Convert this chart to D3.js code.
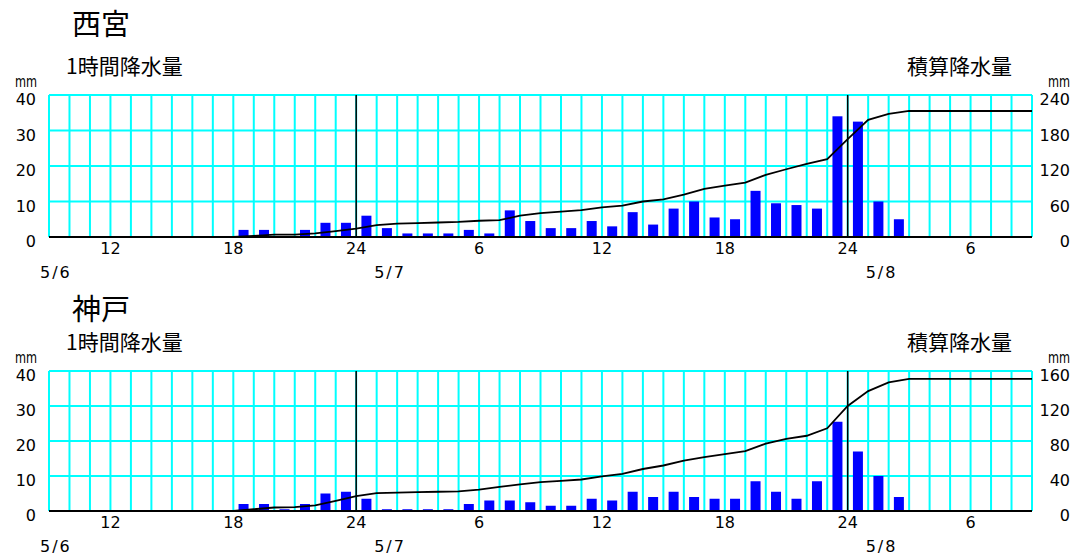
<!DOCTYPE html>
<html><head><meta charset="utf-8">
<script src="https://cdn.jsdelivr.net/npm/d3@7"></script>
<style>
html,body{margin:0;padding:0;background:#fff;}
svg{display:block;}
text{font-family:"DejaVu Sans",sans-serif;fill:#000;}
.jp{font-family:"Noto Sans CJK JP","Noto Sans CJK SC",sans-serif;}
</style></head><body>
<svg id="c" width="1090" height="556"></svg>
<script>
// hour offsets from 5/6 9:00 ; slot i = hour i..i+1
const stations = ["西宮", "神戸"];
const hourTickValues = [3, 9, 15, 21, 27, 33, 39, 45];
const hourTickLabels = ["12", "18", "24", "6", "12", "18", "24", "6"];
const dayLabels = ["5/6", "5/7", "5/8"];
const dayHours = [-9, 15, 39];
const midnightHours = [15, 39];
const rainTicks = [0, 10, 20, 30, 40];
const cumTicksNishinomiya = [0, 60, 120, 180, 240];
const cumTicksKobe = [0, 40, 80, 120, 160];

const hourlyNishinomiya = [
  0,0,0,0,0,0,0,0,0, 2,2,0,2,4,4,
  6,2.5,1,1,1,2,1,7.5,4.5,2.5,2.5,4.5,3,7,3.5,8,10,5.5,5,13,9.5,9,8,34,
  32.5,10,5,0,0,0,0,0,0
];
const cumNishinomiya = [
  0,0,0,0,0,0,0,0,0,0, 2,4,4,6,10,14,
  20,22.5,23.5,24.5,25.5,27.5,28.5,36,40.5,43,45.5,50,53,60,63.5,71.5,81.5,87,92,105,114.5,123.5,131.5,165.5,
  198,208,213,213,213,213,213,213,213
];
const hourlyKobe = [
  0,0,0,0,0,0,0,0,0, 2,2,0.5,2,5,5.5,
  3.5,0.5,0.5,0.5,0.5,2,3,3,2.5,1.5,1.5,3.5,3,5.5,4,5.5,4,3.5,3.5,8.5,5.5,3.5,8.5,25.5,
  17,10,4,0,0,0,0,0,0
];
const cumKobe = [
  0,0,0,0,0,0,0,0,0,0, 2,4,4.5,6.5,11.5,17,
  20.5,21,21.5,22,22.5,24.5,27.5,30.5,33,34.5,36,39.5,42.5,48,52,57.5,61.5,65,68.5,77,82.5,86,94.5,120,
  137,147,151,151,151,151,151,151,151
];

const charts = [
  {title: stations[0], hourly: hourlyNishinomiya, cum: cumNishinomiya, cumTicks: cumTicksNishinomiya, top: 95, bottom: 237, titleY: 35},
  {title: stations[1], hourly: hourlyKobe, cum: cumKobe, cumTicks: cumTicksKobe, top: 371, bottom: 511, titleY: 320}
];

const svg = d3.select("#c");
const x = d3.scaleLinear().domain([0, 48]).range([49, 1032]);
const GRID = "#00ffff";

charts.forEach(ch => {
  const g = svg.append("g");
  const y = d3.scaleLinear().domain([0, 40]).range([ch.bottom, ch.top]);
  const yc = d3.scaleLinear().domain([0, d3.max(ch.cumTicks)]).range([ch.bottom, ch.top]);

  // titles
  g.append("text").attr("class", "jp").attr("x", 72).attr("y", ch.titleY)
    .style("font-size", "29px").text(ch.title);
  g.append("text").attr("class", "jp").attr("x", 66).attr("y", ch.top - 21)
    .style("font-size", "21px").text("1時間降水量");
  g.append("text").attr("class", "jp").attr("x", 1012).attr("y", ch.top - 21)
    .attr("text-anchor", "end").style("font-size", "21px").text("積算降水量");
  g.append("text").attr("x", 15).attr("y", ch.top - 8).style("font-size", "16px")
    .attr("textLength", 22).attr("lengthAdjust", "spacingAndGlyphs").text("mm");
  g.append("text").attr("x", 1048).attr("y", ch.top - 8).style("font-size", "16px")
    .attr("textLength", 22).attr("lengthAdjust", "spacingAndGlyphs").text("mm");

  // grid
  g.append("g").selectAll("line").data(d3.range(0, 49)).join("line")
    .attr("x1", d => x(d)).attr("x2", d => x(d))
    .attr("y1", ch.top).attr("y2", ch.bottom)
    .attr("stroke", GRID).attr("stroke-width", 2);
  g.append("g").selectAll("line").data(rainTicks.filter(v => v > 0)).join("line")
    .attr("x1", x(0)).attr("x2", x(48))
    .attr("y1", d => y(d)).attr("y2", d => y(d))
    .attr("stroke", GRID).attr("stroke-width", 2);

  // bars
  g.append("g").selectAll("rect").data(ch.hourly.map((v, i) => ({v, i})).filter(d => d.v > 0)).join("rect")
    .attr("x", d => x(d.i + 0.5) - 5).attr("width", 10)
    .attr("y", d => y(d.v)).attr("height", d => y(0) - y(d.v))
    .attr("fill", "#0000ff");

  // midnight lines
  g.append("g").selectAll("line").data(midnightHours).join("line")
    .attr("x1", d => x(d)).attr("x2", d => x(d))
    .attr("y1", ch.top).attr("y2", ch.bottom)
    .attr("stroke", "#000").attr("stroke-width", 1.5);

  // baseline
  g.append("line").attr("x1", x(0)).attr("x2", x(48)).attr("y1", y(0)).attr("y2", y(0))
    .attr("stroke", "#000").attr("stroke-width", 2);

  // cumulative line
  g.append("path").datum(ch.cum)
    .attr("d", d3.line().x((d, i) => x(i)).y(d => yc(d)))
    .attr("fill", "none").attr("stroke", "#000").attr("stroke-width", 1.8);

  // left ticks
  g.append("g").selectAll("text").data(rainTicks).join("text")
    .attr("x", 36).attr("y", d => y(d) + 10).attr("text-anchor", "end")
    .style("font-size", "16px").text(d => d);
  // right ticks
  g.append("g").selectAll("text").data(ch.cumTicks).join("text")
    .attr("x", 1070).attr("y", d => yc(d) + 10).attr("text-anchor", "end")
    .style("font-size", "16px").text(d => d);
  // hour ticks
  g.append("g").selectAll("text").data(hourTickValues).join("text")
    .attr("x", d => x(d)).attr("y", ch.bottom + 17).attr("text-anchor", "middle")
    .style("font-size", "16px").text((d, i) => hourTickLabels[i]);
  // day labels
  g.append("g").selectAll("text").data(dayHours).join("text")
    .attr("x", d => Math.max(x(d) + 18, 40)).attr("y", ch.bottom + 41)
    .style("font-size", "16px").style("letter-spacing", "2px").text((d, i) => dayLabels[i]);
});
</script>
</body></html>
